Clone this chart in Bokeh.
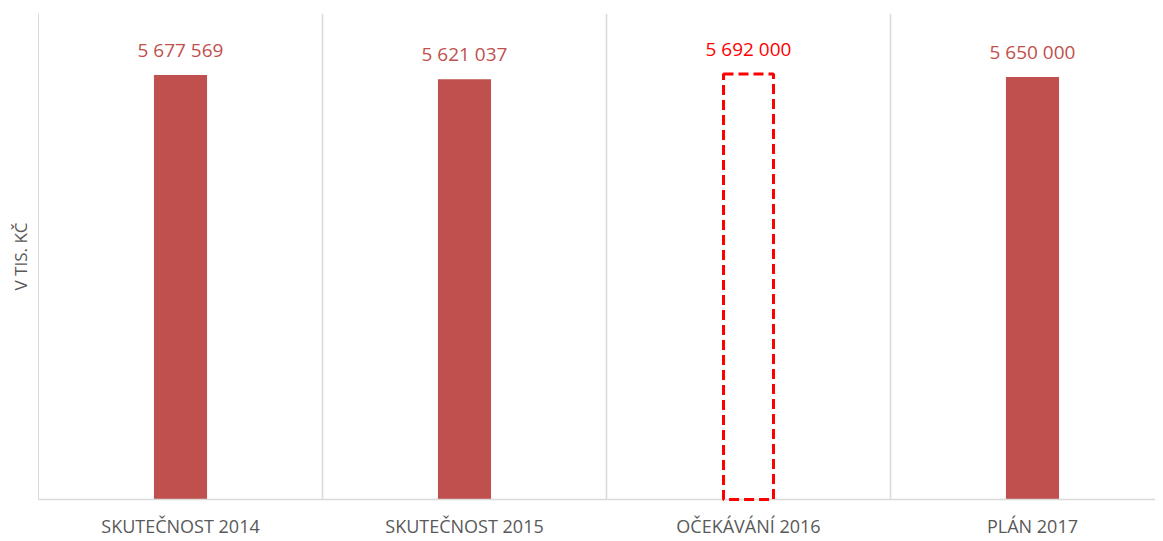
from bokeh.plotting import figure
from bokeh.models import ColumnDataSource, Range1d, FixedTicker
from bokeh.core.properties import value
from bokeh.embed import file_html
from bokeh.resources import INLINE

categories = ["SKUTEČNOST 2014", "SKUTEČNOST 2015", "OČEKÁVÁNÍ 2016", "PLÁN 2017"]
values = [5677569, 5621037, 5692000, 5650000]
is_expected = [False, False, True, False]
y_max = 6500000

FONT = "Open Sans"
BAR = "#C0504D"
GRID = "#D9D9D9"
TXT = "#595959"

xs = [i + 0.5 for i in range(len(categories))]
labels = ["{:,}".format(v).replace(",", " ") for v in values]

solid = ColumnDataSource(dict(
    x=[x for x, e in zip(xs, is_expected) if not e],
    top=[v for v, e in zip(values, is_expected) if not e],
    label=[l for l, e in zip(labels, is_expected) if not e],
))
dashed = ColumnDataSource(dict(
    x=[x for x, e in zip(xs, is_expected) if e],
    top=[v for v, e in zip(values, is_expected) if e],
    label=[l for l, e in zip(labels, is_expected) if e],
))

W, H = 1155, 540
left = 38
cat_px = 284.0
p = figure(width=W, height=H, output_backend="svg", toolbar_location=None,
           x_range=Range1d(0, (W - left) / cat_px), y_range=Range1d(0, y_max),
           min_border_left=left, min_border_right=0, min_border_top=13,
           min_border_bottom=0)
p.outline_line_color = None
p.background_fill_color = "white"
p.border_fill_color = "white"

p.vbar(x="x", top="top", bottom=0, width=0.187, source=solid,
       fill_color=BAR, line_color=None)
p.vbar(x="x", top="top", bottom=0, width=0.176, source=dashed,
       fill_alpha=0, line_color="#FF0000", line_width=3, line_dash="10 5",
       level="overlay")

p.text(x="x", y="top", text="label", source=solid, text_align="center",
       text_baseline="middle", y_offset=-25, text_color=BAR,
       text_font=value(FONT), text_font_size="19px")
p.text(x="x", y="top", text="label", source=dashed, text_align="center",
       text_baseline="middle", y_offset=-25, text_color="#FF0000",
       text_font=value(FONT), text_font_size="19px")

# x axis
p.xaxis.ticker = FixedTicker(ticks=xs)
p.xaxis.major_label_overrides = {x: c for x, c in zip(xs, categories)}
p.xaxis.major_tick_line_color = None
p.xaxis.minor_tick_line_color = None
p.xaxis.axis_line_color = GRID
p.xaxis.axis_line_width = 1.5
p.xaxis.major_label_standoff = 8
p.xaxis.major_label_text_font = FONT
p.xaxis.major_label_text_font_size = "18px"
p.xaxis.major_label_text_color = TXT

# y axis
p.yaxis.ticker = FixedTicker(ticks=[])
p.yaxis.major_tick_line_color = None
p.yaxis.minor_tick_line_color = None
p.yaxis.axis_line_color = GRID
p.yaxis.axis_line_width = 1
p.yaxis.axis_label = "V TIS. KČ"
p.yaxis.axis_label_text_font = FONT
p.yaxis.axis_label_text_font_size = "17px"
p.yaxis.axis_label_text_font_style = "normal"
p.yaxis.axis_label_text_color = TXT
p.yaxis.axis_label_standoff = 7

p.xgrid.ticker = FixedTicker(ticks=list(range(len(categories) + 1)))
p.xgrid.grid_line_color = GRID
p.xgrid.grid_line_width = 1.5
p.ygrid.grid_line_color = None

open("out.html", "w").write(file_html(p, INLINE))
